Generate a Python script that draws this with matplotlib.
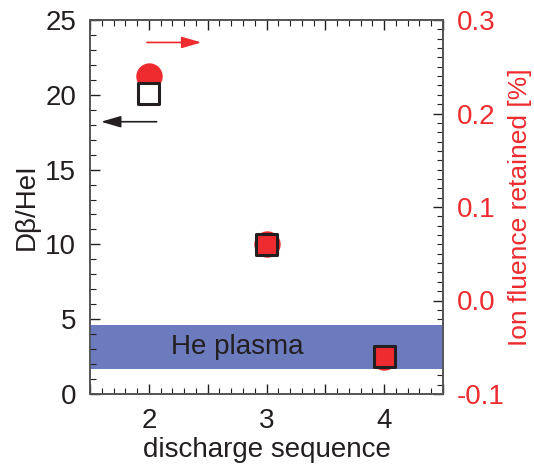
import matplotlib
matplotlib.use("Agg")
import numpy as np
from matplotlib import pyplot as plt
from matplotlib.ticker import MultipleLocator

plt.rcParams["font.family"] = ["Liberation Sans", "DejaVu Sans"]

RED = "#ee2b2e"
BAND = "#6b7bbd"
INK = "#231f20"

# discharge sequence and the two measured quantities
sequence = [2, 3, 4]
d_beta_hei = [20.1, 10.0, 2.5]
fluence_retained = [0.24, 0.06, -0.06]
square_faces = ["white", RED, RED]

band_range = (1.7, 4.6)

fig = plt.figure(figsize=(5.34, 4.66), dpi=100)
ax = fig.add_axes([90 / 534, 72 / 466, 353 / 534, 374 / 466])
ax2 = ax.twinx()

ax.set_xlim(1.5, 4.5)
ax.set_ylim(0, 25)
ax2.set_ylim(-0.1, 0.3)

ax.axhspan(*band_range, color=BAND, lw=0, zorder=0)
ax.text(2.75, np.mean(band_range), "He plasma", ha="center", va="center",
        fontsize=20, color=INK, zorder=1)

ax2.scatter(sequence, fluence_retained, s=19 ** 2, color=RED, lw=0, zorder=2)
ax.set_zorder(ax2.get_zorder() + 1)
ax.patch.set_visible(False)
ax.scatter(sequence, d_beta_hei, s=15 ** 2, marker="s", c=square_faces,
           edgecolors=INK, linewidths=2.2, zorder=3)

# arrows pointing to the axis each series belongs to
arrow = "-|>,head_length=1.2,head_width=0.35"
ax.annotate("", xy=(2.47, 23.5), xytext=(1.96, 23.5),
            arrowprops=dict(arrowstyle=arrow, color=RED, lw=1.2))
ax.annotate("", xy=(1.57, 18.2), xytext=(2.09, 18.2),
            arrowprops=dict(arrowstyle=arrow, color=INK, lw=1.2))

ax.xaxis.set_minor_locator(MultipleLocator(0.1))
ax.set_xticks([1.5, 2, 2.5, 3, 3.5, 4, 4.5], ["", "2", "", "3", "", "4", ""])
ax.yaxis.set_major_locator(MultipleLocator(5))
ax.yaxis.set_minor_locator(MultipleLocator(1))
ax2.yaxis.set_minor_locator(MultipleLocator(0.01))
ax2.set_yticks([-0.1, 0.0, 0.1, 0.2, 0.3], ["-0.1", "0.0", "0.1", "0.2", "0.3"])

ax.tick_params(which="both", direction="in", top=True, right=False,
               labelsize=20, colors=INK, pad=10)
ax.tick_params(which="major", length=7, width=1)
ax.tick_params(which="minor", length=4, width=0.8)
ax2.tick_params(which="both", direction="in", labelsize=20, pad=10,
                colors=INK, labelcolor=RED)
ax2.tick_params(which="major", length=7, width=1)
ax2.tick_params(which="minor", length=4, width=0.8)
for spine in list(ax.spines.values()) + list(ax2.spines.values()):
    spine.set_color("#555555")
    spine.set_linewidth(1.2)

ax.set_xlabel("discharge sequence", fontsize=20, color=INK, labelpad=2)
ax.set_ylabel("D\u03b2/HeI", fontsize=20, color=INK, labelpad=4)
ax2.set_ylabel("Ion fluence retained [%]", fontsize=19, color=RED, labelpad=2)

fig.savefig("out.png", facecolor="white")
